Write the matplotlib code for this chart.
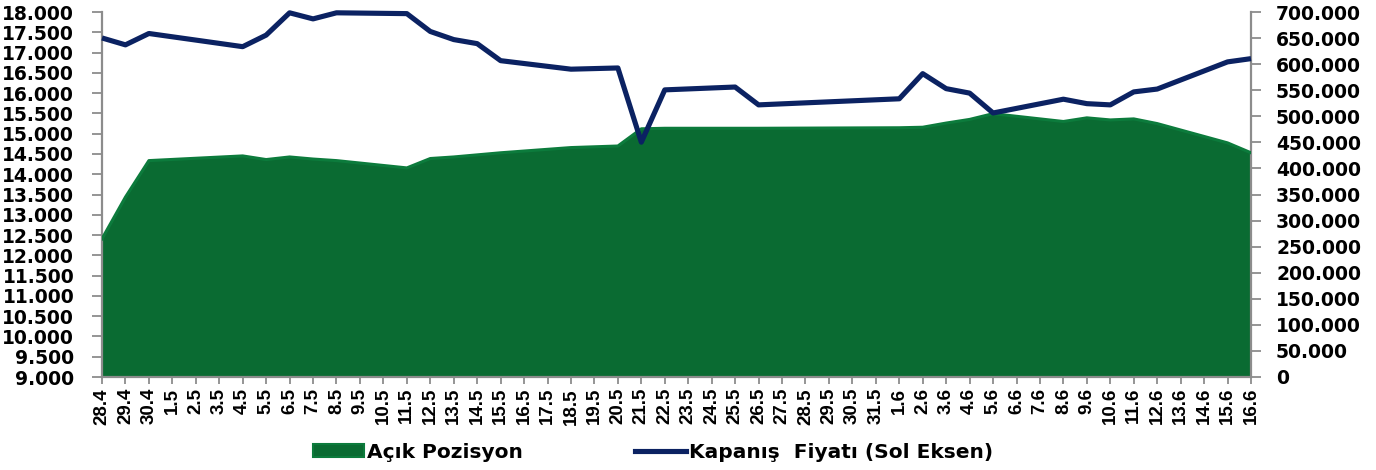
import matplotlib
matplotlib.use("Agg")
import matplotlib.pyplot as plt
from matplotlib.patches import Patch
from matplotlib.lines import Line2D
from matplotlib.ticker import FuncFormatter, FixedLocator
import numpy as np

# ---- data ----
days = (["28.4", "29.4", "30.4"] + [f"{d}.5" for d in range(1, 32)] +
        [f"{d}.6" for d in range(1, 17)])

price_days = ["28.4", "29.4", "30.4", "4.5", "5.5", "6.5", "7.5", "8.5", "11.5",
              "12.5", "13.5", "14.5", "15.5", "18.5", "20.5", "21.5", "22.5",
              "25.5", "26.5", "1.6", "2.6", "3.6", "4.6", "5.6", "8.6", "9.6",
              "10.6", "11.6", "12.6", "15.6", "16.6"]
price = [17.36, 17.19, 17.47, 17.145, 17.43, 17.98, 17.83, 17.98, 17.96,
         17.52, 17.32, 17.22, 16.80, 16.59, 16.62, 14.79, 16.08,
         16.15, 15.71, 15.86, 16.48, 16.11, 16.00, 15.51, 15.85, 15.74,
         15.71, 16.03, 16.10, 16.77, 16.85]

oi_days = price_days
open_interest = [265000, 345000, 415000, 424000, 417000, 422000, 418000, 415000, 401000,
                 419000, 422000, 426000, 430000, 440000, 443000, 476000, 477000,
                 477000, 477000, 478000, 479000, 487000, 494000, 505000, 490000, 497000,
                 493000, 495000, 486000, 449000, 430000]

left_ticks = list(np.arange(9.0, 18.01, 0.5))
right_ticks = list(range(0, 700001, 50000))

series_names = ["Açık Pozisyon", "Kapanış  Fiyatı (Sol Eksen)"]

# ---- style ----
plt.rcParams["font.family"] = ["DejaVu Sans"]
plt.rcParams["font.weight"] = "bold"

green = "#0a6b32"
green_edge = "#0c7b3c"
navy = "#0b2262"
grey = "#8c8c8c"

W, H = 1376, 470
fig = plt.figure(figsize=(W / 100, H / 100), dpi=100)
x0, x1, ytop, ybot = 102, 1251, 12, 377
ax = fig.add_axes([x0 / W, 1 - ybot / H, (x1 - x0) / W, (ybot - ytop) / H])
ax2 = ax.twinx()

xa = [days.index(d) for d in oi_days]
ax.fill_between(xa, 0, open_interest, color=green, linewidth=0, zorder=2)
ax.plot(xa, open_interest, color=green_edge, lw=2.2, zorder=3, solid_joinstyle="round")
ax.set_xlim(0, len(days) - 1)
ax.set_ylim(0, 700000)

ax.yaxis.set_major_locator(FixedLocator(right_ticks))
ax.yaxis.set_major_formatter(FuncFormatter(lambda v, p: f"{int(round(v)):,}".replace(",", ".")))
ax.yaxis.set_ticks_position("right")
ax.tick_params(axis="y", left=False, labelleft=False, right=True, labelright=True,
               direction="out", length=7, width=1.3, color=grey, pad=11,
               labelsize=13.5)
ax.set_xticks(range(len(days)))
ax.set_xticklabels(days, rotation=90, fontfamily="Liberation Sans",
                   fontweight="bold", fontsize=13.5)
ax.tick_params(axis="x", which="major", direction="out", length=5, width=1.3,
               color=grey, pad=3)

for s in ["left", "right", "bottom"]:
    ax.spines[s].set_color(grey)
    ax.spines[s].set_linewidth(1.6)
ax.spines["top"].set_visible(False)

xp = [days.index(d) for d in price_days]
ax2.plot(xp, price, color=navy, lw=3.7, solid_joinstyle="round",
         solid_capstyle="butt", clip_on=False, zorder=5)
ax2.set_ylim(9, 18)
ax2.set_xlim(0, len(days) - 1)
ax2.yaxis.set_major_locator(FixedLocator(left_ticks))
ax2.yaxis.set_major_formatter(FuncFormatter(lambda v, p: f"{v:.3f}"))
ax2.yaxis.set_ticks_position("left")
ax2.tick_params(axis="y", left=True, labelleft=True, right=False, labelright=False,
                direction="out", length=7, width=1.3, color=grey, pad=13,
                labelsize=13.5)
for s in ax2.spines.values():
    s.set_visible(False)

handles = [Patch(facecolor=green, edgecolor=green_edge, linewidth=1.5),
           Line2D([], [], color=navy, lw=3.7)]
fig.legend(handles, series_names, loc="center", bbox_to_anchor=(653 / W, 18 / H),
           ncol=2, frameon=False,
           prop={"family": "DejaVu Sans", "weight": "bold", "size": 14.5},
           handlelength=2.5, handleheight=0.65, handletextpad=0.15,
           columnspacing=5.6, borderpad=0, borderaxespad=0)

fig.savefig("out.png", dpi=100)
